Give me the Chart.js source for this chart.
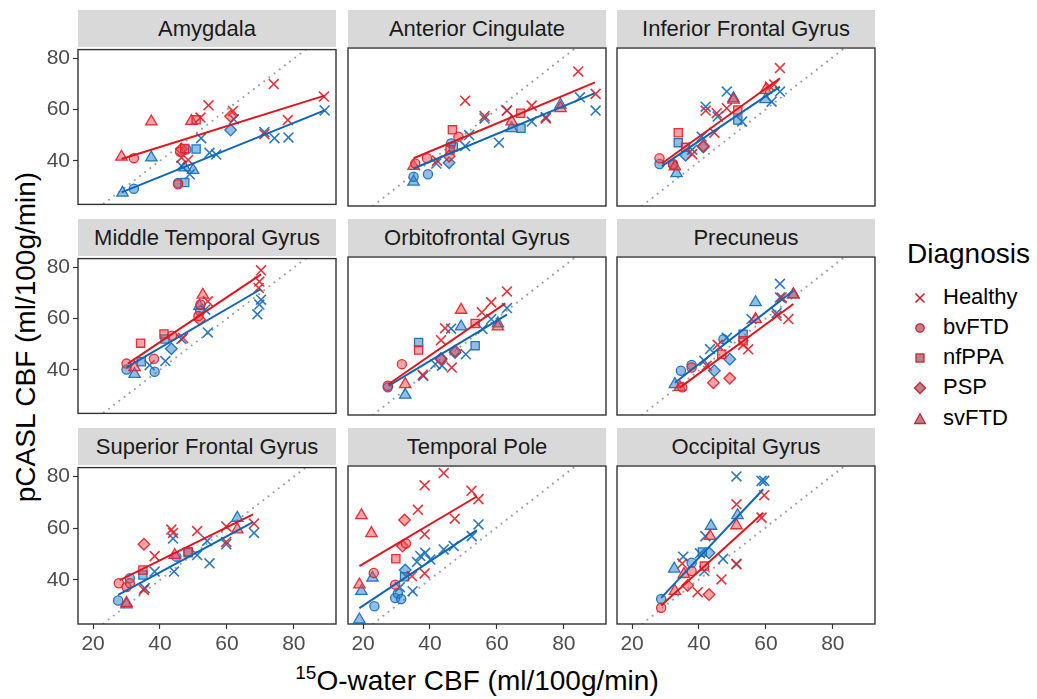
<!DOCTYPE html>
<html>
<head>
<meta charset="utf-8">
<script src="https://cdn.jsdelivr.net/npm/chart.js@4.4.1/dist/chart.umd.min.js"></script>
<style>
  body { margin: 0; background: #fff; width: 1037px; height: 699px; overflow: hidden; position: relative;
         font-family: "Liberation Sans", Arial, Helvetica, sans-serif; }
  .strip { position: absolute; background: #d9d9d9; color: #1a1a1a; font-size: 22px; text-align: center; }
  canvas { position: absolute; }
  .title { position: absolute; color: #000; font-size: 28px; text-align: center; white-space: nowrap; }
  .legend-item { position: absolute; left: 913px; height: 30px; font-size: 22px; color: #000; line-height: 30px; }
  .legend-item svg { vertical-align: middle; margin-right: 16px; }
</style>
</head>
<body>
<div class="title" id="ytitle" style="left:-224px;top:320px;width:500px;height:34px;line-height:34px;transform:rotate(-90deg);">pCASL CBF (ml/100g/min)</div>
<div class="title" style="left:177px;top:663px;width:600px;height:36px;line-height:36px;"><span style="font-size:19px;position:relative;top:-11px;">15</span>O-water CBF (ml/100g/min)</div>
<div class="title" style="left:907px;top:236px;line-height:36px;">Diagnosis</div>
<div id="legend"></div>

<script>
// Eixos comuns a todos os painéis
const xTicks = [20, 40, 60, 80];
const yTicks = [40, 60, 80];
const xRange = [15.5, 92.6];
const yRange = [22.9, 83.5];

const regions = ['Amygdala', 'Anterior Cingulate', 'Inferior Frontal Gyrus',
                 'Middle Temporal Gyrus', 'Orbitofrontal Gyrus', 'Precuneus',
                 'Superior Frontal Gyrus', 'Temporal Pole', 'Occipital Gyrus'];
const diagnoses = ['Healthy', 'bvFTD', 'nfPPA', 'PSP', 'svFTD'];
const codes = ['H', 'B', 'N', 'P', 'S'];

// [x, y, diagnóstico]
const amygdalaRed = [[28.5,41.5,'S'],[32.2,41,'B'],[37.4,55.3,'S'],[49.4,55.5,'S'],[50.8,56,'N'],[52.1,56.9,'H'],[54.5,61.7,'H'],[61.8,59.5,'H'],[61.1,57.4,'P'],[74,70,'H'],[89,65.1,'H'],[78.2,55.9,'H'],[71.2,50.4,'H'],[46.4,44.6,'P'],[46,43.5,'B'],[46.4,41.2,'H'],[48.4,40.3,'H'],[45.4,30.8,'B'],[47.4,44.8,'N']];
const amygdalaBlue = [[28.8,27.4,'S'],[32.2,29,'B'],[37.4,41.2,'S'],[52.3,48.8,'H'],[50.8,44.6,'N'],[47.9,44.4,'B'],[54.8,43.1,'H'],[56.8,42.4,'H'],[61.1,52,'P'],[62.1,56.2,'H'],[71.2,51.2,'H'],[74.2,48.8,'H'],[78.4,49.1,'H'],[89.2,59.7,'H'],[47.4,37.3,'S'],[49.9,36.3,'S'],[46.4,38,'H'],[45.4,31.3,'B'],[47.4,31.5,'N'],[48.9,34.7,'H']];
const amygdalaFits = [[[28.5,40.7],[89.2,65.5]], [[28.5,27.6],[89.2,59.7]]];

const cingulateRed = [[35.1,38.2,'S'],[35.6,39.2,'B'],[39.1,41.2,'B'],[42.1,40.3,'H'],[46,44.4,'N'],[46.7,52.1,'N'],[48.5,49.5,'B'],[50.5,63.3,'H'],[56.3,57.4,'H'],[63,59.5,'H'],[67.1,58.5,'N'],[70.4,61.4,'H'],[64.4,55.3,'S'],[74.6,56.5,'H'],[79,60.4,'S'],[84.3,74.5,'H'],[89.5,65.9,'H'],[45.7,42,'P']];
const cingulateBlue = [[35.1,32.2,'S'],[35.1,34.1,'B'],[39.4,35.1,'B'],[45.7,39.5,'P'],[41.9,39.2,'H'],[46.3,46.9,'B'],[51.7,50.1,'H'],[50.5,45.9,'H'],[56.3,56.5,'H'],[60.6,47.2,'H'],[63,59.5,'H'],[64.4,52.7,'S'],[67.2,52.7,'N'],[70.4,55.3,'H'],[79,61.7,'S'],[84.8,64.6,'H'],[89.5,59.5,'H'],[74.6,57,'H'],[47,45.5,'N']];
const cingulateFits = [[[35.1,41.2],[89.3,70.3]], [[35.1,37.3],[89.3,66.2]]];

const frontalInfRed = [[28.2,41.2,'B'],[32.2,39,'B'],[32.8,38,'S'],[33.8,51,'N'],[36,45.4,'N'],[38,42.8,'H'],[41.3,45.9,'P'],[44.6,51,'H'],[42,59.5,'H'],[45.3,58.5,'H'],[48.3,60.4,'H'],[50.3,63.6,'S'],[51.6,59.7,'N'],[61.2,68.7,'H'],[64.2,75.8,'H'],[59.9,67.4,'S'],[62.5,69.5,'H']];
const frontalInfBlue = [[28.2,39,'B'],[33.3,35.4,'S'],[32.3,38.6,'B'],[33.8,47.2,'N'],[36,42.4,'P'],[40.8,49.5,'H'],[42,61,'H'],[48.3,66.8,'H'],[45.6,57.2,'H'],[50.3,64.2,'S'],[51.6,55.9,'N'],[52.9,55.3,'H'],[59.9,63.8,'S'],[61.7,62.9,'H'],[64.2,66.8,'H'],[41.3,45.5,'P'],[38,44.5,'H']];
const frontalInfFits = [[[28.9,39.2],[64.2,71.9]], [[28.9,38.2],[64.2,68.7]]];

const temporalMidRed = [[30,42.4,'B'],[32.4,40.9,'S'],[38.2,44.3,'B'],[34.2,50.4,'N'],[41.2,54,'N'],[43.6,53.3,'B'],[46.9,52.4,'H'],[51.8,59.7,'P'],[52.8,69.3,'S'],[54.3,66.8,'H'],[52.1,65.5,'B'],[70.2,78.9,'H'],[69.7,74.5,'H'],[69.5,72,'H'],[51.5,61,'B']];
const temporalMidBlue = [[30,40.1,'B'],[32.4,38.3,'S'],[34.4,43.1,'N'],[36.9,41.8,'H'],[38.4,39.2,'B'],[41.6,43.4,'H'],[43.4,48.2,'P'],[46.4,52,'H'],[54.3,54.6,'H'],[51.8,64.9,'S'],[53.5,63.5,'H'],[69.1,61.7,'H'],[70.2,67.4,'H'],[69.7,65.5,'H'],[41.5,52,'N'],[52,63,'B']];
const temporalMidFits = [[[30.4,42.4],[70.2,77.3]], [[30,40.9],[70.2,71.6]]];

const orbitoRed = [[27.4,34.1,'B'],[32.6,34.7,'S'],[31.6,42.4,'B'],[36.6,47.8,'N'],[37.8,38.3,'H'],[43.3,44.3,'P'],[46.5,41.1,'H'],[43.3,51.6,'H'],[44.5,56.2,'H'],[49.3,63.2,'S'],[53.5,58,'N'],[55.5,62.3,'H'],[58.3,66.1,'H'],[63,70.3,'H'],[60.3,56.8,'S'],[47.5,47.5,'P']];
const orbitoBlue = [[27.4,33.5,'B'],[32.6,30.6,'S'],[36.6,50.7,'N'],[38,37.9,'H'],[41.6,42.4,'H'],[43.6,41.8,'H'],[47.5,46.9,'P'],[43.3,44.6,'P'],[49.3,56.8,'S'],[50.7,46.2,'H'],[53.5,49.5,'N'],[55.7,55.9,'H'],[58.3,59.7,'H'],[60.3,58,'S'],[63,63.9,'H'],[46.3,56,'H']];
const orbitoFits = [[[27.6,34.7],[62.5,65.7]], [[27.6,34.1],[63,61.4]]];

const precuneusRed = [[34.3,33.6,'S'],[35,33.5,'B'],[37.8,41.1,'B'],[42.3,41.8,'H'],[44.3,35.3,'P'],[49.2,37,'P'],[46.8,46.2,'N'],[45.6,49.8,'H'],[53.2,49.8,'H'],[53.2,51.4,'N'],[54.7,48.1,'H'],[56.9,59.7,'S'],[63.2,61,'H'],[66.7,59.7,'H'],[64.7,68,'H'],[68.2,69.1,'S']];
const precuneusBlue = [[32.8,34.7,'S'],[34.6,39.9,'B'],[37.8,42.1,'B'],[41.6,43.7,'H'],[43.3,48.2,'H'],[44.6,39.9,'P'],[49.2,44.3,'P'],[47.3,52,'B'],[48.3,52.5,'H'],[53.2,53.9,'N'],[55.7,59.7,'H'],[56.9,66.1,'S'],[64.2,73.2,'H'],[64.2,68,'H'],[68.2,69.1,'S'],[63.2,62,'H']];
const precuneusFits = [[[34.3,33.4],[68.2,65.5]], [[32.8,35.3],[68.2,70.6]]];

const frontalSupRed = [[27.7,38.7,'B'],[30,37.2,'B'],[31,38.7,'B'],[30,31,'S'],[34.9,43.8,'N'],[35.2,36.1,'H'],[35.2,53.8,'P'],[38.4,49.2,'H'],[43.4,59.5,'H'],[43.9,58.2,'H'],[44.4,49.6,'S'],[51.1,58.9,'H'],[48.4,50.9,'N'],[59.8,60.7,'H'],[59.8,54.7,'H'],[63.1,59.5,'S'],[68.1,61.8,'H']];
const frontalSupBlue = [[27.5,32,'B'],[30,30.4,'S'],[31,40.6,'B'],[35.4,36.8,'H'],[34.9,41.9,'N'],[38.4,43.2,'H'],[43.9,56,'H'],[44.2,43.2,'H'],[44.9,49,'B'],[51.1,49.6,'H'],[54.8,46.4,'H'],[54.1,55.1,'H'],[59.8,53.8,'H'],[63.1,64,'S'],[68.1,58.2,'H'],[48.4,50.5,'N']];
const frontalSupFits = [[[28,39.9],[67.8,65.4]], [[27.5,34.2],[67.8,62.4]]];

const polarRed = [[19.5,64.6,'S'],[22.5,57.7,'S'],[18.9,38,'S'],[23.2,42.5,'B'],[29.6,38,'B'],[29.8,47.9,'N'],[32.4,62.8,'P'],[31.8,52.8,'P'],[32.8,53.8,'B'],[34.6,41.3,'H'],[36.4,66.7,'H'],[38.4,76.1,'H'],[38.4,57.3,'H'],[38.4,42.3,'H'],[44.1,80.8,'H'],[47.4,63.3,'H'],[52.4,74,'H'],[54.5,70.8,'H']];
const polarBlue = [[18.9,24.6,'S'],[19.5,35.5,'S'],[22.8,40.6,'S'],[23.4,29.7,'B'],[29.6,32.9,'B'],[30.4,34.6,'B'],[31.4,32.5,'B'],[32.6,43.6,'P'],[32.4,41,'N'],[34.8,35.5,'H'],[36.1,46.7,'H'],[37.1,49,'H'],[38.6,50.2,'H'],[40.1,47.6,'H'],[44.1,51.5,'H'],[47.1,52.8,'H'],[52.5,56.6,'H'],[54.5,61.1,'H'],[31,37,'H']];
const polarFits = [[[18.9,45.1],[54,71.8]], [[18.9,29],[54,58.9]]];

const occipitalRed = [[28.7,29.1,'B'],[32.8,35.5,'S'],[36.6,37.7,'P'],[35,46.1,'H'],[37.8,43.2,'B'],[39.6,35.1,'H'],[43,34.2,'P'],[41.6,45.1,'N'],[43.3,56.6,'S'],[46.7,40,'H'],[51.2,45.8,'H'],[51.2,60.7,'S'],[51.2,68.8,'H'],[58.7,63.7,'H'],[59.5,72.3,'H'],[35.5,42,'S']];
const occipitalBlue = [[28.7,32.5,'B'],[32.6,44.1,'S'],[35.3,48.7,'H'],[37.8,46.4,'B'],[40.3,50,'H'],[43,50.2,'P'],[41.6,43.2,'H'],[43.6,60.5,'S'],[41.9,56.6,'H'],[47.2,47.9,'H'],[51.5,64.6,'S'],[51.2,79.5,'H'],[58.7,77.8,'H'],[59.5,77.8,'H'],[51.2,46,'H'],[41,50.5,'N']];
const occipitalFits = [[[28.7,30],[59.2,65.6]], [[28.7,32.9],[59.2,74.6]]];

// Painéis pela ordem das regiões
const panels = [
  [amygdalaRed, amygdalaBlue, amygdalaFits],
  [cingulateRed, cingulateBlue, cingulateFits],
  [frontalInfRed, frontalInfBlue, frontalInfFits],
  [temporalMidRed, temporalMidBlue, temporalMidFits],
  [orbitoRed, orbitoBlue, orbitoFits],
  [precuneusRed, precuneusBlue, precuneusFits],
  [frontalSupRed, frontalSupBlue, frontalSupFits],
  [polarRed, polarBlue, polarFits],
  [occipitalRed, occipitalBlue, occipitalFits]
];

// Cores e formas
const RED = 'rgba(228,30,38,0.9)', BLUE = 'rgba(18,108,190,0.9)';
const RED_FILL = 'rgba(236,72,80,0.5)', BLUE_FILL = 'rgba(40,125,200,0.5)';
const shapeOf = {H: 'crossRot', B: 'circle', N: 'rect', P: 'rectRot', S: 'triangle'};
const radiusOf = {H: 7, B: 4.6, N: 5.8, P: 5.8, S: 6.6};
const FONT = '"Liberation Sans", Arial, Helvetica, sans-serif';

// Geometria da grelha
const colLeft = [78, 348, 617];
const rowTop = [48, 257, 466];
const W = 258, H = 158, M = 14, AXW = 48, AXH = 42;

function pointSet(rows, stroke, fill) {
  return {
    data: rows.map(r => ({x: r[0], y: r[1], d: r[2]})),
    pointStyle: c => c.raw ? shapeOf[c.raw.d] : 'circle',
    pointRadius: c => c.raw ? radiusOf[c.raw.d] : 4,
    pointBorderColor: stroke,
    pointBackgroundColor: c => (c.raw && c.raw.d === 'H') ? 'rgba(0,0,0,0)' : fill,
    pointBorderWidth: c => (c.raw && c.raw.d === 'H') ? 1.6 : 1.3,
    showLine: false
  };
}

function lineSet(pts, color, width, dash) {
  return {
    data: pts.map(p => ({x: p[0], y: p[1]})),
    showLine: true, borderColor: color, borderWidth: width,
    borderDash: dash || [], borderCapStyle: dash ? 'round' : 'butt',
    pointRadius: 0, clip: 0
  };
}

// Moldura do painel por cima de tudo
const panelBorder = {
  id: 'panelBorder',
  afterDatasetsDraw(chart) {
    const a = chart.chartArea, ctx = chart.ctx;
    ctx.save();
    ctx.strokeStyle = '#333';
    ctx.lineWidth = 1.4;
    ctx.strokeRect(a.left, a.top, a.right - a.left, a.bottom - a.top);
    ctx.restore();
  }
};

panels.forEach((p, i) => {
  const r = Math.floor(i / 3), c = i % 3;
  const axL = c === 0 ? AXW : 0, axB = r === 2 ? AXH : 0;

  // Faixa cinzenta com o nome da região
  const strip = document.createElement('div');
  strip.className = 'strip';
  strip.style.left = colLeft[c] + 'px';
  strip.style.top = (rowTop[r] - 38) + 'px';
  strip.style.width = W + 'px';
  strip.style.height = '37px';
  strip.style.lineHeight = '37px';
  strip.textContent = regions[i];
  document.body.appendChild(strip);

  const cv = document.createElement('canvas');
  cv.width = W + 2 * M + axL;
  cv.height = H + 2 * M + axB;
  cv.style.left = (colLeft[c] - M - axL) + 'px';
  cv.style.top = (rowTop[r] - M) + 'px';
  document.body.appendChild(cv);

  const identity = [[0, 0], [100, 100]];

  new Chart(cv, {
    type: 'scatter',
    data: {
      datasets: [
        lineSet(p[2][0], 'rgb(222,22,30)', 2),
        lineSet(p[2][1], 'rgb(14,102,182)', 2),
        pointSet(p[0], RED, RED_FILL),
        pointSet(p[1], BLUE, BLUE_FILL),
        lineSet(identity, '#9a9a9a', 2, [0.01, 6.5])
      ]
    },
    options: {
      responsive: false,
      animation: false,
      layout: {padding: M},
      plugins: {legend: {display: false}, tooltip: {enabled: false}},
      scales: {
        x: {
          type: 'linear', min: xRange[0], max: xRange[1], display: r === 2,
          afterBuildTicks: s => { s.ticks = xTicks.map(v => ({value: v})); },
          afterFit: s => { if (axB) s.height = axB; },
          grid: {drawOnChartArea: false, drawTicks: true, tickLength: 5, tickColor: '#333', tickWidth: 1.2},
          border: {display: false},
          ticks: {color: '#4d4d4d', font: {size: 21, family: FONT}, padding: 3, maxRotation: 0, autoSkip: false}
        },
        y: {
          type: 'linear', min: yRange[0], max: yRange[1], display: c === 0,
          afterBuildTicks: s => { s.ticks = yTicks.map(v => ({value: v})); },
          afterFit: s => { if (axL) s.width = axL; },
          grid: {drawOnChartArea: false, drawTicks: true, tickLength: 5, tickColor: '#333', tickWidth: 1.2},
          border: {display: false},
          ticks: {color: '#4d4d4d', font: {size: 21, family: FONT}, padding: 3, autoSkip: false}
        }
      }
    },
    plugins: [panelBorder]
  });
});

// Legenda das formas (diagnóstico)
const legendSvg = {
  H: '<path d="M2.5 2.5 L11.5 11.5 M11.5 2.5 L2.5 11.5" stroke="#c42632" stroke-width="1.6" fill="none"/>',
  B: '<circle cx="7" cy="7" r="4.2" fill="#c0808a" stroke="#c42632" stroke-width="1.3"/>',
  N: '<rect x="3" y="3" width="8" height="8" fill="#c0808a" stroke="#c42632" stroke-width="1.3"/>',
  P: '<path d="M7 1.5 L12.5 7 L7 12.5 L1.5 7 Z" fill="#c0808a" stroke="#c42632" stroke-width="1.3"/>',
  S: '<path d="M7 1.8 L12.4 11.5 L1.6 11.5 Z" fill="#c0808a" stroke="#c42632" stroke-width="1.3"/>'
};
const legendTops = [282, 312, 342, 372, 403];
const legend = document.getElementById('legend');
diagnoses.forEach((name, k) => {
  const item = document.createElement('div');
  item.className = 'legend-item';
  item.style.top = legendTops[k] + 'px';
  item.innerHTML = '<svg width="14" height="14">' + legendSvg[codes[k]] + '</svg>' + name;
  legend.appendChild(item);
});
</script>
</body>
</html>
